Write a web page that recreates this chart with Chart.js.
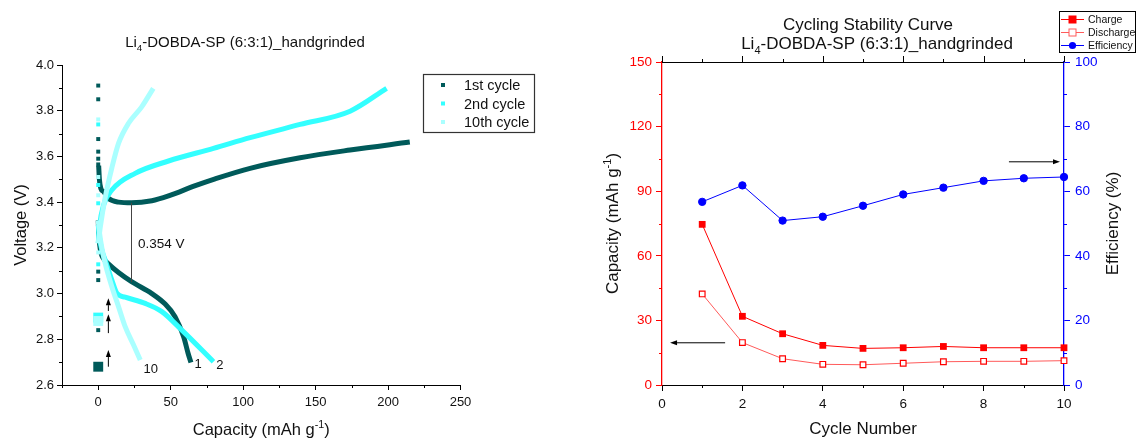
<!DOCTYPE html>
<html>
<head>
<meta charset="utf-8">
<script src="https://cdn.jsdelivr.net/npm/chart.js@4/dist/chart.umd.min.js"></script>
<style>
  html, body { margin: 0; padding: 0; background: #fff; }
  #wrap { position: relative; width: 1137px; height: 442px; }
  #left { position: absolute; left: 0; top: 0; }
  #right { position: absolute; left: 575px; top: 0; }
</style>
</head>
<body>
<div id="wrap">
  <canvas id="left" width="575" height="442"></canvas>
  <canvas id="right" width="562" height="442"></canvas>
</div>
<script>
// ---- left plot: voltage profiles ----
const capTicks = [0, 50, 100, 150, 200, 250];
const capMinor = [-25, 25, 75, 125, 175, 225];
const voltTicks = [2.6, 2.8, 3.0, 3.2, 3.4, 3.6, 3.8, 4.0];
const voltMinor = [2.7, 2.9, 3.1, 3.3, 3.5, 3.7, 3.9];

const c1ChgCap = [0.3, 0.8, 1.8, 3.7, 7.1, 14, 23, 37, 48.5, 67, 80.7, 104.8, 139.3, 173.8, 215];
const c1ChgV   = [3.56, 3.50, 3.46, 3.446, 3.416, 3.40, 3.397, 3.406, 3.427, 3.472, 3.502, 3.548, 3.594, 3.628, 3.663];
const c1DisCap = [0, 0.5, 1.5, 4, 7, 14, 23, 37, 46, 53, 59, 62, 64];
const c1DisV   = [3.32, 3.25, 3.19, 3.15, 3.13, 3.092, 3.052, 3.0, 2.955, 2.899, 2.81, 2.739, 2.698];
const c1RestV  = [3.91, 3.85, 3.676, 3.621, 3.59, 3.565, 3.096, 3.059, 2.84];
const c1EndV   = [2.68];

const c2ChgCap = [0, 1, 3.7, 9.4, 25.5, 48.5, 79.5, 104.8, 139.3, 173.8, 199];
const c2ChgV   = [3.22, 3.30, 3.387, 3.453, 3.526, 3.58, 3.635, 3.682, 3.74, 3.798, 3.898];
const c2DisCap = [0, 1, 2.5, 4.8, 9.4, 12.9, 18.6, 32.4, 43.9, 57.7, 79.5];
const c2DisV   = [3.30, 3.24, 3.19, 3.147, 3.059, 3.001, 2.984, 2.957, 2.921, 2.84, 2.702];
const c2RestV  = [3.74, 3.475, 3.395, 3.128];
const c2EndV   = [2.895];

const c10ChgCap = [0, 1.4, 4.8, 9.4, 14, 20.9, 30, 38];
const c10ChgV   = [3.22, 3.29, 3.42, 3.55, 3.657, 3.745, 3.817, 3.898];
const c10DisCap = [0, 1, 2.5, 4.8, 9.4, 14, 18.6, 24.4, 29];
const c10DisV   = [3.32, 3.26, 3.2, 3.132, 3.03, 2.943, 2.855, 2.775, 2.709];
const c10RestV  = [3.762, 3.51, 3.43, 3.18];
const c10EndV   = [2.88];

const cycleNames = ['1st cycle', '2nd cycle', '10th cycle'];

// gap annotation and arrows (data units)
const gapCap = 22.5, gapTop = 3.397, gapBottom = 3.05, gapText = '0.354 V';
const upArrows = [[7, 2.924, 2.98], [7, 2.827, 2.91], [7, 2.68, 2.753]];
const endLabels = [['10', 31.3, 2.654], ['1', 66.4, 2.673], ['2', 81.4, 2.67]];

// ---- right plot: cycling ----
const cycles = [1, 2, 3, 4, 5, 6, 7, 8, 9, 10];
const chargeCap = [74.6, 31.9, 23.8, 18.4, 17.0, 17.3, 17.9, 17.3, 17.3, 17.3];
const dischargeCap = [42.3, 19.7, 12.2, 9.6, 9.4, 10.1, 10.8, 11.0, 11.0, 11.3];
const efficiency = [56.7, 61.8, 50.9, 52.1, 55.5, 59.0, 61.1, 63.2, 64.0, 64.4];
const cycTicks = [0, 2, 4, 6, 8, 10];
const cycMinor = [1, 3, 5, 7, 9];
const capAxisTicks = [0, 30, 60, 90, 120, 150];
const capAxisMinor = [15, 45, 75, 105, 135];
const effTicks = [0, 20, 40, 60, 80, 100];
const effMinor = [10, 30, 50, 70, 90];

const FONT = '"Liberation Sans", Arial, sans-serif';
const DARK = '#005a5a', CYAN = '#33ffff', PALE = '#aaffff';
const RED = '#ff0000', PINK = '#ff5a5a', BLUE = '#0000ff';

const pts = (xs, ys) => xs.map((x, i) => ({ x: x, y: ys[i] }));
const atZero = ys => ys.map(y => ({ x: 0, y: y }));

function rich(ctx, parts, cx, base, size, color, rot) {
  ctx.save();
  ctx.translate(cx, base);
  if (rot) ctx.rotate(rot);
  ctx.fillStyle = color;
  ctx.textBaseline = 'alphabetic';
  ctx.textAlign = 'left';
  let w = 0;
  parts.forEach(p => {
    ctx.font = (p.s ? size * 0.65 : size) + 'px ' + FONT;
    w += ctx.measureText(p.t).width;
  });
  let x = -w / 2;
  parts.forEach(p => {
    ctx.font = (p.s ? size * 0.65 : size) + 'px ' + FONT;
    const dy = p.s === 'sub' ? size * 0.28 : p.s === 'sup' ? -size * 0.42 : 0;
    ctx.fillText(p.t, x, dy);
    x += ctx.measureText(p.t).width;
  });
  ctx.restore();
}

function ticksAt(ctx, scale, vals, side, a, len, color) {
  ctx.save();
  ctx.strokeStyle = color;
  ctx.lineWidth = 1;
  ctx.beginPath();
  vals.forEach(v => {
    const p = Math.round(scale.getPixelForValue(v)) + 0.5;
    if (side === 'bottom') { ctx.moveTo(p, a.bottom); ctx.lineTo(p, a.bottom + len); }
    if (side === 'top') { ctx.moveTo(p, a.top); ctx.lineTo(p, a.top - len); }
    if (side === 'left') { ctx.moveTo(a.left, p); ctx.lineTo(a.left - len, p); }
    if (side === 'right') { ctx.moveTo(a.right, p); ctx.lineTo(a.right + len, p); }
  });
  ctx.stroke();
  ctx.restore();
}

function arrow(ctx, x1, y1, x2, y2, color) {
  const ang = Math.atan2(y2 - y1, x2 - x1), hl = 7, hw = 2.5;
  const c = Math.cos(ang), s = Math.sin(ang);
  ctx.save();
  ctx.strokeStyle = color;
  ctx.fillStyle = color;
  ctx.lineWidth = 1;
  ctx.beginPath();
  ctx.moveTo(x1, y1);
  ctx.lineTo(x2 - hl * c, y2 - hl * s);
  ctx.stroke();
  ctx.beginPath();
  ctx.moveTo(x2, y2);
  ctx.lineTo(x2 - hl * c + hw * s, y2 - hl * s - hw * c);
  ctx.lineTo(x2 - hl * c - hw * s, y2 - hl * s + hw * c);
  ctx.closePath();
  ctx.fill();
  ctx.restore();
}

const fixTicks = vals => s => { s.ticks = vals.map(v => ({ value: v })); };

// ---------------- left chart ----------------
const line = (data, color) => ({
  data: data, showLine: true, borderColor: color, borderWidth: 5,
  pointRadius: 0, borderJoinStyle: 'round', cubicInterpolationMode: 'monotone', clip: false
});
const dots = (data, color, r) => ({
  data: data, showLine: false, pointStyle: 'rect', pointRadius: r,
  backgroundColor: color, borderColor: color, borderWidth: 0, clip: false
});

const leftDecor = {
  id: 'leftDecor',
  afterDraw(chart) {
    const ctx = chart.ctx, a = chart.chartArea;
    const xs = chart.scales.x, ys = chart.scales.y;
    ticksAt(ctx, xs, capMinor, 'bottom', a, 3, '#000');
    ticksAt(ctx, ys, voltMinor, 'left', a, 3, '#000');

    // voltage gap marker
    const gx = Math.round(xs.getPixelForValue(gapCap)) + 0.5;
    ctx.save();
    ctx.strokeStyle = '#444';
    ctx.lineWidth = 1;
    ctx.beginPath();
    ctx.moveTo(gx, ys.getPixelForValue(gapTop));
    ctx.lineTo(gx, ys.getPixelForValue(gapBottom));
    ctx.stroke();
    ctx.fillStyle = '#111';
    ctx.font = '13.5px ' + FONT;
    ctx.textBaseline = 'alphabetic';
    ctx.fillText(gapText, xs.getPixelForValue(gapCap + 5), ys.getPixelForValue(3.2));
    ctx.font = '13px ' + FONT;
    endLabels.forEach(l => ctx.fillText(l[0], xs.getPixelForValue(l[1]), ys.getPixelForValue(l[2])));
    ctx.restore();

    upArrows.forEach(u => {
      const px = xs.getPixelForValue(u[0]);
      arrow(ctx, px, ys.getPixelForValue(u[1]), px, ys.getPixelForValue(u[2]), '#000');
    });

    // titles
    rich(ctx, [{ t: 'Li' }, { t: '4', s: 'sub' }, { t: '-DOBDA-SP (6:3:1)_handgrinded' }], 245, 47, 15, '#111');
    rich(ctx, [{ t: 'Capacity (mAh g' }, { t: '-1', s: 'sup' }, { t: ')' }], (a.left + a.right) / 2, 435, 16.5, '#111');
    rich(ctx, [{ t: 'Voltage (V)' }], 20 + 6, (a.top + a.bottom) / 2, 16.5, '#111', -Math.PI / 2);

    // legend
    ctx.save();
    ctx.strokeStyle = '#333';
    ctx.lineWidth = 1.2;
    ctx.strokeRect(423.5, 74.5, 111, 58);
    const cols = [DARK, CYAN, PALE];
    ctx.font = '14.5px ' + FONT;
    ctx.textBaseline = 'middle';
    cycleNames.forEach((n, i) => {
      const yy = 85 + i * 18.5;
      ctx.fillStyle = cols[i];
      ctx.fillRect(441, yy - 2, 4, 4);
      ctx.fillStyle = '#111';
      ctx.fillText(n, 464, yy + 1);
    });
    ctx.restore();
  }
};

new Chart(document.getElementById('left'), {
  type: 'scatter',
  data: {
    datasets: [
      dots(atZero(c10EndV), PALE, 7),
      dots(atZero(c10RestV), PALE, 2.8),
      line(pts(c10DisCap, c10DisV), PALE),
      line(pts(c10ChgCap, c10ChgV), PALE),
      dots(atZero(c2EndV), CYAN, 7),
      dots(atZero(c2RestV), CYAN, 2.8),
      line(pts(c2DisCap, c2DisV), CYAN),
      line(pts(c2ChgCap, c2ChgV), CYAN),
      dots(atZero(c1EndV), DARK, 7),
      dots(atZero(c1RestV), DARK, 2.8),
      line(pts(c1DisCap, c1DisV), DARK),
      line(pts(c1ChgCap, c1ChgV), DARK)
    ]
  },
  options: {
    responsive: false,
    animation: false,
    devicePixelRatio: 1,
    events: [],
    layout: { padding: { left: 10, top: 65, right: 114.5, bottom: 17 } },
    plugins: { legend: { display: false }, tooltip: { enabled: false } },
    scales: {
      x: {
        type: 'linear', min: -25, max: 250,
        afterBuildTicks: fixTicks(capTicks),
        afterFit: s => { s.height = 40; },
        grid: { drawOnChartArea: false, tickLength: 5, color: '#000' },
        border: { color: '#000', width: 1 },
        ticks: { font: { family: FONT, size: 13 }, color: '#111', padding: 5, maxRotation: 0 }
      },
      y: {
        type: 'linear', min: 2.6, max: 4.0,
        afterBuildTicks: fixTicks(voltTicks),
        afterFit: s => { s.width = 52; },
        grid: { drawOnChartArea: false, tickLength: 5, color: '#000' },
        border: { color: '#000', width: 1 },
        ticks: { font: { family: FONT, size: 13 }, color: '#111', padding: 3, callback: v => v.toFixed(1) }
      }
    }
  },
  plugins: [leftDecor]
});

// ---------------- right chart ----------------
const rightDecor = {
  id: 'rightDecor',
  afterDraw(chart) {
    const ctx = chart.ctx, a = chart.chartArea;
    const xs = chart.scales.x, ys = chart.scales.y, ye = chart.scales.y1;
    ticksAt(ctx, xs, cycMinor, 'bottom', a, 3, '#000');
    ticksAt(ctx, xs, cycTicks, 'top', a, 6, '#000');
    ticksAt(ctx, xs, cycMinor, 'top', a, 3, '#000');
    ticksAt(ctx, ys, capAxisMinor, 'left', a, 3, RED);
    ticksAt(ctx, ye, effMinor, 'right', a, 3, BLUE);
    ctx.save();
    ctx.strokeStyle = '#000';
    ctx.lineWidth = 1;
    ctx.beginPath();
    ctx.moveTo(a.left, Math.round(a.top) + 0.5);
    ctx.lineTo(a.right, Math.round(a.top) + 0.5);
    ctx.stroke();
    ctx.restore();

    // arrows pointing at the axes
    const ay = ys.getPixelForValue(19.6);
    arrow(ctx, xs.getPixelForValue(1.57), ay, xs.getPixelForValue(0.2), ay, '#000');
    const by = ye.getPixelForValue(69.1);
    arrow(ctx, xs.getPixelForValue(8.63), by, xs.getPixelForValue(9.9), by, '#000');

    // titles
    rich(ctx, [{ t: 'Cycling Stability Curve' }], 868 - 575, 30, 17, '#111');
    rich(ctx, [{ t: 'Li' }, { t: '4', s: 'sub' }, { t: '-DOBDA-SP (6:3:1)_handgrinded' }], 877 - 575, 49, 17, '#111');
    rich(ctx, [{ t: 'Cycle Number' }], (a.left + a.right) / 2, 434, 17, '#111');
    rich(ctx, [{ t: 'Capacity (mAh g' }, { t: '-1', s: 'sup' }, { t: ')' }], 612 - 575 + 6, (a.top + a.bottom) / 2, 17, '#111', -Math.PI / 2);
    rich(ctx, [{ t: 'Efficiency (%)' }], 1112 - 575 + 6, (a.top + a.bottom) / 2, 17, '#111', -Math.PI / 2);

    // legend
    ctx.save();
    ctx.strokeStyle = '#000';
    ctx.lineWidth = 1;
    ctx.fillStyle = '#fff';
    ctx.fillRect(484.5, 11.5, 76, 41);
    ctx.strokeRect(484.5, 11.5, 76, 41);
    const items = [
      ['Charge', RED, 'rect', RED],
      ['Discharge', PINK, 'rect', '#fff'],
      ['Efficiency', BLUE, 'circle', BLUE]
    ];
    ctx.font = '10.5px ' + FONT;
    ctx.textBaseline = 'middle';
    items.forEach((it, i) => {
      const yy = Math.round(19 + i * 13) + 0.5;
      ctx.strokeStyle = it[1];
      ctx.beginPath();
      ctx.moveTo(486, yy);
      ctx.lineTo(509, yy);
      ctx.stroke();
      ctx.fillStyle = it[3];
      if (it[2] === 'rect') {
        ctx.fillRect(494, yy - 3.5, 7, 7);
        ctx.strokeRect(494, yy - 3.5, 7, 7);
      } else {
        ctx.beginPath();
        ctx.arc(497.5, yy, 3.6, 0, Math.PI * 2);
        ctx.fill();
      }
      ctx.fillStyle = '#111';
      ctx.fillText(it[0], 513, yy + 0.5);
    });
    ctx.restore();
  }
};

new Chart(document.getElementById('right'), {
  type: 'line',
  data: {
    datasets: [
      {
        label: 'Efficiency', data: pts(cycles, efficiency), yAxisID: 'y1',
        borderColor: BLUE, backgroundColor: BLUE, borderWidth: 1,
        pointStyle: 'circle', pointRadius: 3.7, clip: false
      },
      {
        label: 'Charge', data: pts(cycles, chargeCap), yAxisID: 'y',
        borderColor: RED, backgroundColor: RED, borderWidth: 1,
        pointStyle: 'rect', pointRadius: 4.8, pointBorderWidth: 0, clip: false
      },
      {
        label: 'Discharge', data: pts(cycles, dischargeCap), yAxisID: 'y',
        borderColor: PINK, backgroundColor: '#fff', borderWidth: 1,
        pointBorderColor: RED, pointBackgroundColor: '#fff',
        pointStyle: 'rect', pointRadius: 4, pointBorderWidth: 1.2, clip: false
      }
    ]
  },
  options: {
    responsive: false,
    animation: false,
    devicePixelRatio: 1,
    events: [],
    layout: { padding: { left: 37, top: 62, right: 23, bottom: 17 } },
    plugins: { legend: { display: false }, tooltip: { enabled: false } },
    scales: {
      x: {
        type: 'linear', min: 0, max: 10,
        afterBuildTicks: fixTicks(cycTicks),
        afterFit: s => { s.height = 40; },
        grid: { drawOnChartArea: false, tickLength: 6, color: '#000' },
        border: { color: '#000', width: 1 },
        ticks: { font: { family: FONT, size: 13.5 }, color: '#111', padding: 5, maxRotation: 0 }
      },
      y: {
        type: 'linear', position: 'left', min: 0, max: 150,
        afterBuildTicks: fixTicks(capAxisTicks),
        afterFit: s => { s.width = 50; },
        grid: { drawOnChartArea: false, tickLength: 6, color: RED },
        border: { color: RED, width: 1.3 },
        ticks: { font: { family: FONT, size: 13.5 }, color: RED, padding: 4 }
      },
      y1: {
        type: 'linear', position: 'right', min: 0, max: 100,
        afterBuildTicks: fixTicks(effTicks),
        afterFit: s => { s.width = 50; },
        grid: { drawOnChartArea: false, tickLength: 6, color: BLUE },
        border: { color: BLUE, width: 1.3 },
        ticks: { font: { family: FONT, size: 13.5 }, color: BLUE, padding: 5 }
      }
    }
  },
  plugins: [rightDecor]
});
</script>
</body>
</html>
